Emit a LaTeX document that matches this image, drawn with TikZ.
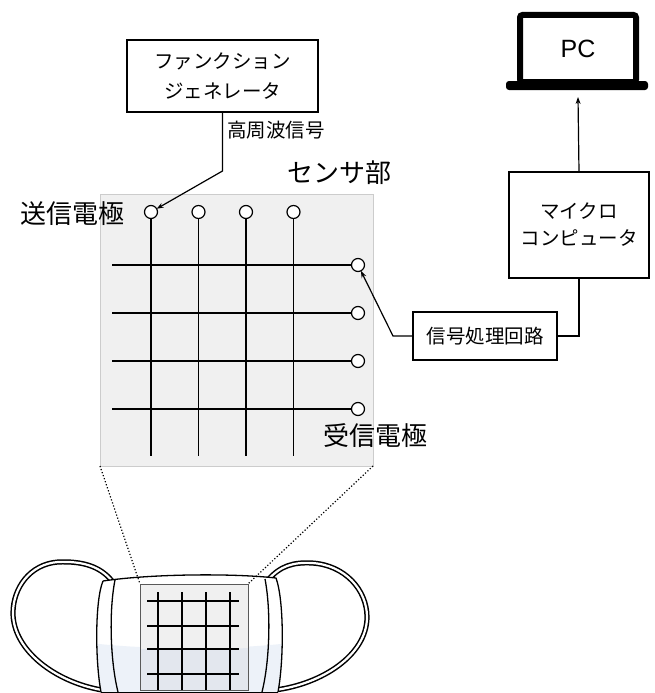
\documentclass[tikz,border=0pt]{standalone}
\usepackage{fontspec}
\setmainfont{Noto Sans CJK JP}
\newfontfamily\latinsans{Liberation Sans}
\usetikzlibrary{arrows.meta}
\definecolor{panelgray}{HTML}{F0F0F0}
\definecolor{paneledge}{HTML}{CCCCCC}
\definecolor{masktint}{HTML}{EDF2F9}
\definecolor{paneltint}{HTML}{E3E7EE}
\begin{document}
\begin{tikzpicture}[x=1pt,y=-1pt,
  lbl/.style={font=\fontsize{19.5}{24}\selectfont, inner sep=0},
  biglbl/.style={font=\fontsize{26}{30}\selectfont, inner sep=0},
  blockbox/.style={draw, line width=1.2pt, fill=white, inner sep=0, outer sep=0},
  electrode/.style={circle, draw, fill=white, line width=1.2pt, minimum size=13pt, inner sep=0, outer sep=0},
  wire/.style={line width=1.4pt},
  sig/.style={line width=1.2pt, -{Stealth[length=7pt,width=5pt]}},
  maskline/.style={line width=1.3pt, line join=round},
  gridline/.style={line width=2.2pt},
  ]
\useasboundingbox (0,0) rectangle (654,693);

% ---------- sensor panel ----------
\node[draw=paneledge, fill=panelgray, line width=0.8pt, minimum width=273pt, minimum height=272pt, inner sep=0, outer sep=0] (sensor) at (236.5,330) {};

% transmitting electrodes (columns)
\foreach \i/\x in {1/151,2/198.5,3/246,4/293.5}{
  \node[electrode] (t\i) at (\x,212) {};
  \coordinate (tb\i) at (\x,456);
  \draw[wire] (t\i.south) -- (tb\i);
}
% receiving electrodes (rows)
\foreach \i/\y in {1/265,2/313,3/361,4/409}{
  \node[electrode] (r\i) at (358,\y) {};
  \coordinate (rl\i) at (112,\y);
  \draw[wire] (rl\i) -- (r\i.west);
}

\node[biglbl] (senslbl) at (339,173) {センサ部};
\node[biglbl] (txlbl) at (72,214) {送信電極};
\node[biglbl] (rxlbl) at (375,436) {受信電極};

% ---------- function generator ----------
\node[blockbox, minimum width=191pt, minimum height=72pt, align=center,
      font=\fontsize{19.5}{30}\selectfont] (fg) at (222.5,76) {ファンクション\\ジェネレータ};
\node[lbl, anchor=west] (hf) at (227,130) {高周波信号};
\coordinate (fgbend) at (222.5,171);
\draw[sig] (fg.south) -- (fgbend) -- (t1);

% ---------- signal processing and microcomputer ----------
\node[blockbox, minimum width=144pt, minimum height=48pt, font=\fontsize{19.5}{24}\selectfont] (sp) at (485,336) {信号処理回路};
\node[blockbox, minimum width=140pt, minimum height=106pt, align=center,
      font=\fontsize{19.5}{27}\selectfont] (mc) at (579,225) {マイクロ\\コンピュータ};
\coordinate (spbend) at (393,336);
\draw[sig] (sp.west) -- (spbend) -- (r1);
\draw[line width=1.2pt] (sp.east) -| (mc.south);

% ---------- laptop ----------
\node[draw, line width=6pt, rounded corners=2.5pt, minimum width=116pt, minimum height=67pt,
      inner sep=0, outer sep=0, font=\latinsans\fontsize{25}{30}\selectfont] (pc) at (578,48.5) {PC};
\fill[rounded corners=3pt] ([xshift=-14pt,yshift=1pt]pc.south west) rectangle ([xshift=12pt,yshift=-8pt]pc.south east);
\coordinate (pcbase) at ([yshift=-15pt]pc.south);
\draw[sig] (mc.north) -- (pcbase);

% ---------- mask ----------
% ear loops (double strands)
\foreach \w/\c in {5.2pt/black,2.2pt/white}{
  \draw[line width=\w, color=\c, line cap=round]
    (112,581) .. controls (100,566) and (82,561) .. (58,562)
    .. controls (30,564) and (13,588) .. (13,613)
    .. controls (13,650) and (55,682) .. (102,690);
  \draw[line width=\w, color=\c, line cap=round]
    (268,580) .. controls (280,566) and (293,562) .. (312,563)
    .. controls (345,565) and (367,590) .. (367,617)
    .. controls (367,655) and (322,684) .. (275,690);
}
% mask body
\path[fill=white] (103,581) .. controls (150,574) and (230,573) .. (276,578)
  .. controls (284,600) and (284,660) .. (278,692) -- (101,692)
  .. controls (95,660) and (95,600) .. (103,581) -- cycle;
\begin{scope}
  \clip (103,581) .. controls (150,574) and (230,573) .. (276,578)
    .. controls (284,600) and (284,660) .. (278,692) -- (101,692)
    .. controls (95,660) and (95,600) .. (103,581) -- cycle;
  \fill[masktint] (90,643) .. controls (150,650) and (230,650) .. (290,643) -- (290,700) -- (90,700) -- cycle;
\end{scope}
\draw[maskline] (103,581) .. controls (150,574) and (230,573) .. (276,578)
  .. controls (284,600) and (284,660) .. (278,692)
  (101,692) .. controls (95,660) and (95,600) .. (103,581);
\draw[maskline] (101,692.3) -- (278,692.3);
% side bands
\draw[maskline] (115,580) .. controls (109,610) and (110,660) .. (118,692);
\draw[maskline] (265,579) .. controls (271,610) and (270,660) .. (262,692);

% sensor patch on the mask
\fill[panelgray] (140,584) rectangle (248,690);
\fill[paneltint] (140,649) .. controls (180,650) and (210,650) .. (248,648) -- (248,690) -- (140,690) -- cycle;
\foreach \x in {158,182,206,230}{
  \coordinate (mt\x) at (\x,592); \coordinate (mb\x) at (\x,690);
  \draw[gridline] (mt\x) -- (mb\x);
}
\foreach \y in {601,626,649,674}{
  \coordinate (ml\y) at (147,\y); \coordinate (mr\y) at (239,\y);
  \draw[gridline] (ml\y) -- (mr\y);
}
\node[draw=black!65, line width=0.9pt, minimum width=108pt, minimum height=106pt, inner sep=0, outer sep=0] (patch) at (194,637) {};

% zoom guides
\draw[dotted, line width=1.2pt] (sensor.south west) -- (patch.north west);
\draw[dotted, line width=1.2pt] (sensor.south east) -- (patch.north east);
\end{tikzpicture}
\end{document}
